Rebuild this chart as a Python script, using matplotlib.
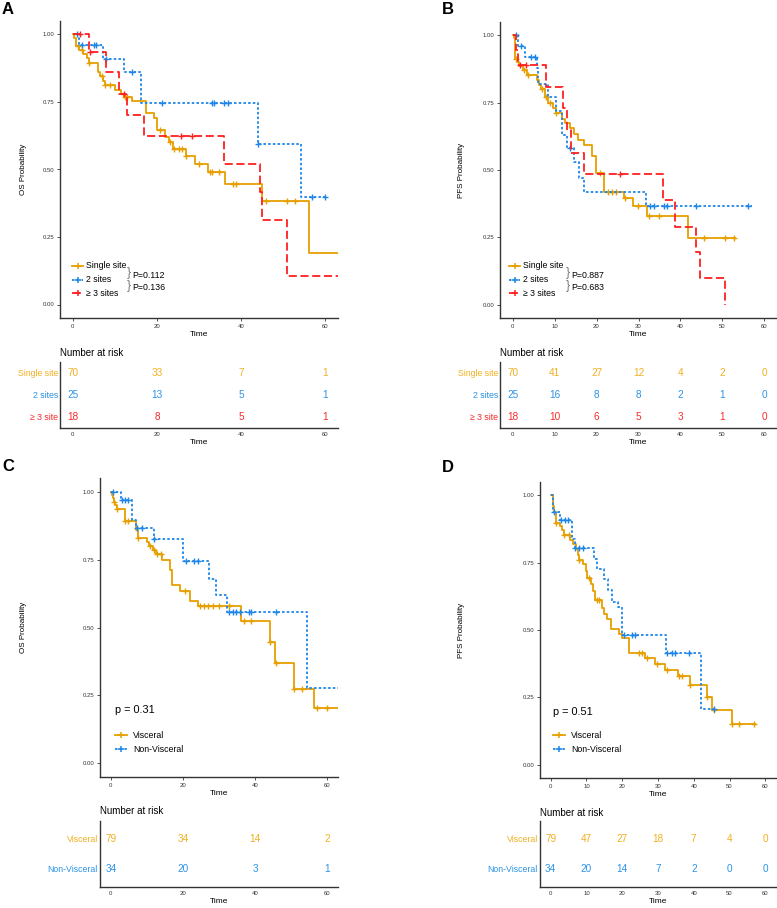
import numpy as np
import matplotlib
matplotlib.use("Agg")
from matplotlib import pyplot as plt
from matplotlib.lines import Line2D

plt.rcParams['font.family'] = ['Liberation Sans', 'DejaVu Sans']

# cores
ORANGE = '#E69F00'
BLUE = '#1E86E8'
RED = '#FF2020'
T_ORANGE = '#F0B020'
T_BLUE = '#2A93E8'
T_RED = '#F52A2A'

# ---- A: OS por numero de sitios ----
a_single_t = [0.4, 0.7, 1.5, 2.5, 3.5, 3.8, 6.0, 6.6, 7.2, 7.6, 10.1, 11.5, 12.2, 14.1, 17.3, 19.2, 20.0,
              22.0, 22.8, 23.8, 26.8, 29.0, 32.1, 36.1, 45.0, 56.0]
a_single_s = [0.986, 0.957, 0.943, 0.929, 0.914, 0.896, 0.862, 0.845, 0.828, 0.812, 0.795, 0.778, 0.770,
              0.752, 0.710, 0.690, 0.648, 0.620, 0.600, 0.577, 0.550, 0.520, 0.490, 0.445, 0.383, 0.192]
a_single_c = [1.2, 2.2, 3.8, 7.0, 7.8, 8.9, 12.5, 13.0, 20.8, 23.0, 24.0, 25.2, 26.0, 27.0, 29.9, 32.5,
              33.1, 34.8, 38.0, 38.7, 45.8, 50.9, 52.9]
a_single_end = 63

a_two_t = [1.6, 7.2, 12.1, 16.2, 43.9, 54.2]
a_two_s = [0.96, 0.91, 0.86, 0.745, 0.595, 0.397]
a_two_c = [1.0, 2.2, 5.0, 5.6, 8.0, 14.1, 21.2, 33.1, 33.6, 35.9, 36.9, 44.0, 56.8, 60.0]
a_two_end = 60

a_three_t = [4.0, 8.0, 10.9, 13.0, 17.0, 36.0, 44.4, 45.0, 51.0]
a_three_s = [0.935, 0.86, 0.78, 0.70, 0.625, 0.52, 0.417, 0.313, 0.104]
a_three_c = [1.8, 4.1, 12.3, 25.8, 28.3]
a_three_end = 63

# ---- B: PFS por numero de sitios ----
b_single_t = [0.3, 0.6, 1.1, 1.6, 2.5, 3.5, 5.7, 6.4, 6.8, 7.7, 8.5, 9.7, 10.3, 11.7, 12.5, 13.7, 14.7,
              15.7, 17.0, 19.0, 19.9, 21.8, 26.6, 28.8, 32.0, 41.8]
b_single_s = [0.99, 0.914, 0.90, 0.886, 0.871, 0.853, 0.835, 0.815, 0.80, 0.77, 0.75, 0.73, 0.71, 0.69,
              0.673, 0.655, 0.635, 0.612, 0.592, 0.552, 0.49, 0.42, 0.395, 0.365, 0.33, 0.246]
b_single_c = [0.7, 2.7, 3.6, 6.9, 7.9, 8.9, 10.3, 20.8, 22.7, 23.6, 24.7, 26.8, 29.8, 32.5, 34.8, 45.7,
              50.7, 52.7]
b_single_end = 53

b_two_t = [1.2, 2.9, 5.7, 6.1, 8.5, 10.3, 11.7, 12.9, 14.7, 15.9, 16.9, 31.8]
b_two_s = [0.96, 0.92, 0.88, 0.82, 0.77, 0.72, 0.63, 0.58, 0.53, 0.47, 0.42, 0.365]
b_two_c = [0.8, 2.0, 4.5, 5.3, 13.7, 32.8, 33.6, 36.0, 36.8, 43.8, 56.2]
b_two_end = 57

b_three_t = [0.8, 1.4, 7.9, 11.9, 12.9, 13.9, 16.9, 35.8, 38.7, 43.8, 44.7, 50.7]
b_three_s = [0.945, 0.89, 0.81, 0.73, 0.65, 0.565, 0.485, 0.39, 0.29, 0.195, 0.10, 0.0]
b_three_c = [1.8, 3.1, 25.5]
b_three_end = 50.7

# ---- C: OS visceral x nao visceral ----
c_visc_t = [0.3, 0.6, 0.9, 1.2, 1.6, 3.9, 7.0, 7.6, 10.0, 10.6, 11.8, 12.6, 14.3, 16.3, 17.1, 19.3,
            21.9, 24.2, 36.2, 44.2, 45.5, 50.8, 56.3]
c_visc_s = [0.987, 0.975, 0.962, 0.949, 0.936, 0.89, 0.86, 0.83, 0.815, 0.80, 0.785, 0.77, 0.75, 0.71,
            0.655, 0.635, 0.596, 0.578, 0.525, 0.447, 0.368, 0.275, 0.205]
c_visc_c = [0.9, 1.6, 3.9, 4.8, 7.6, 10.9, 12.0, 12.9, 13.9, 20.7, 24.7, 25.8, 26.9, 28.3, 30.0, 32.7,
            36.9, 38.8, 44.2, 45.8, 50.9, 53.0, 57.2, 60.0]
c_visc_end = 63

c_non_t = [2.7, 6.0, 7.0, 12.1, 20.0, 27.2, 29.3, 32.1, 54.3]
c_non_s = [0.97, 0.895, 0.865, 0.825, 0.745, 0.68, 0.62, 0.557, 0.278]
c_non_c = [0.7, 3.0, 3.9, 4.8, 7.3, 8.6, 12.1, 20.9, 23.0, 24.2, 32.7, 33.9, 34.8, 35.8, 38.3, 39.0, 45.8]
c_non_end = 63

# ---- D: PFS visceral x nao visceral ----
d_visc_t = [0.5, 0.7, 0.9, 1.5, 2.5, 3.2, 3.6, 5.5, 6.1, 7.1, 7.5, 7.9, 9.1, 9.8, 10.2, 11.2, 11.8, 12.5,
            14.2, 14.9, 15.6, 16.9, 19.1, 19.8, 21.9, 26.4, 29.1, 31.9, 35.6, 38.9, 43.6, 45.0, 50.7]
d_visc_s = [0.987, 0.962, 0.937, 0.899, 0.886, 0.87, 0.853, 0.835, 0.82, 0.80, 0.78, 0.76, 0.745, 0.72,
            0.695, 0.67, 0.645, 0.61, 0.58, 0.56, 0.54, 0.505, 0.485, 0.47, 0.415, 0.395, 0.375, 0.352,
            0.328, 0.295, 0.25, 0.202, 0.15]
d_visc_c = [1.6, 3.8, 5.0, 7.9, 10.6, 12.9, 13.6, 24.7, 25.6, 26.8, 29.6, 32.6, 35.9, 36.8, 38.9, 43.6,
            45.7, 50.7, 52.7, 56.9]
d_visc_end = 57

d_non_t = [0.7, 2.5, 6.0, 6.7, 12.1, 13.0, 14.9, 16.0, 17.2, 18.9, 20.0, 32.1, 42.1]
d_non_s = [0.94, 0.91, 0.84, 0.805, 0.765, 0.725, 0.69, 0.65, 0.605, 0.585, 0.48, 0.415, 0.206]
d_non_c = [0.8, 2.9, 3.9, 4.9, 6.9, 8.0, 9.1, 20.5, 22.8, 23.7, 32.6, 33.8, 34.7, 38.7, 45.7]
d_non_end = 46

# ---- tabelas de numero em risco ----
risk_t_20 = [0, 20, 40, 60]
risk_t_10 = [0, 10, 20, 30, 40, 50, 60]
a_risk_single = [70, 33, 7, 1]
a_risk_two = [25, 13, 5, 1]
a_risk_three = [18, 8, 5, 1]
b_risk_single = [70, 41, 27, 12, 4, 2, 0]
b_risk_two = [25, 16, 8, 8, 2, 1, 0]
b_risk_three = [18, 10, 6, 5, 3, 1, 0]
c_risk_visc = [79, 34, 14, 2]
c_risk_non = [34, 20, 3, 1]
d_risk_visc = [79, 47, 27, 18, 7, 4, 0]
d_risk_non = [34, 20, 14, 7, 2, 0, 0]

W, H = 777, 908
fig = plt.figure(figsize=(W / 100, H / 100), dpi=100)


def px_axes(l, t, r, b):
    return fig.add_axes([l / W, 1 - b / H, (r - l) / W, (b - t) / H])


def ftext(x, y, s, **kw):
    fig.text(x / W, 1 - y / H, s, **kw)


def fline(x1, x2, y, color, ls, dashes=None):
    ln = Line2D([x1 / W, x2 / W], [1 - y / H, 1 - y / H], transform=fig.transFigure,
                color=color, lw=1.3, linestyle=ls)
    if dashes:
        ln.set_dashes(dashes)
    fig.add_artist(ln)
    fig.add_artist(Line2D([(x1 + x2) / 2 / W], [1 - y / H], transform=fig.transFigure,
                          color=color, marker='+', ms=5, mew=1.1, linestyle='none'))


def km(ax, t, s, cens, end, color, ls, dashes=None):
    xs = [0] + list(t) + [end]
    ys = [1.0] + list(s) + [s[-1]]
    ln, = ax.step(xs, ys, where='post', color=color, lw=1.3, linestyle=ls)
    if dashes:
        ln.set_dashes(dashes)
    surv = np.array([1.0] + list(s))
    idx = np.searchsorted(np.array(t), np.array(cens), side='right')
    ax.plot(cens, surv[idx], '+', color=color, ms=5, mew=1.0)


def style_km(ax, xticks, ylabel, ylab_x):
    ax.set_xlim(-3, 63)
    ax.set_ylim(-0.05, 1.05)
    ax.set_xticks(xticks)
    ax.set_yticks([0, 0.25, 0.5, 0.75, 1.0])
    ax.set_yticklabels(['0.00', '0.25', '0.50', '0.75', '1.00'])
    for sp in ['top', 'right']:
        ax.spines[sp].set_visible(False)
    for sp in ['left', 'bottom']:
        ax.spines[sp].set_linewidth(1.0)
        ax.spines[sp].set_color('#333333')
    ax.tick_params(labelsize=4.3, length=2, width=0.6, colors='#333333', pad=2)
    ax.set_xlabel('Time', fontsize=6, labelpad=1.5)
    ax.set_ylabel(ylabel, fontsize=5.8)
    ax.yaxis.set_label_coords(ylab_x, 0.5)


def risk(ax, times, rows, labels, colors, rowcols, xticks, ylim):
    n = len(rows)
    for i, (vals, c) in enumerate(zip(rows, colors)):
        y = n - i
        for tt, v in zip(times, vals):
            ax.text(tt, y, str(v), color=c, fontsize=7.2, ha='center', va='center')
    ax.set_xlim(-3, 63)
    ax.set_ylim(*ylim)
    ax.set_yticks(list(range(n, 0, -1)))
    ax.set_yticklabels(labels, fontsize=6.3)
    for lab, c in zip(ax.get_yticklabels(), rowcols):
        lab.set_color(c)
    ax.set_xticks(xticks)
    for sp in ['top', 'right']:
        ax.spines[sp].set_visible(False)
    for sp in ['left', 'bottom']:
        ax.spines[sp].set_linewidth(1.0)
        ax.spines[sp].set_color('#333333')
    ax.tick_params(axis='y', length=0, pad=1.5)
    ax.tick_params(axis='x', labelsize=4.3, length=0, colors='#333333', pad=3)
    ax.set_xlabel('Time', fontsize=6, labelpad=1)


# painel A
axA = px_axes(60, 21, 338, 318)
km(axA, a_single_t, a_single_s, a_single_c, a_single_end, ORANGE, '-')
km(axA, a_two_t, a_two_s, a_two_c, a_two_end, BLUE, '--', (1.4, 1.2))
km(axA, a_three_t, a_three_s, a_three_c, a_three_end, RED, '--', (4.5, 2.0))
style_km(axA, [0, 20, 40, 60], 'OS Probability', -0.119)

# painel B
axB = px_axes(500, 22, 777, 318)
km(axB, b_single_t, b_single_s, b_single_c, b_single_end, ORANGE, '-')
km(axB, b_two_t, b_two_s, b_two_c, b_two_end, BLUE, '--', (1.4, 1.2))
km(axB, b_three_t, b_three_s, b_three_c, b_three_end, RED, '--', (4.5, 2.0))
style_km(axB, [0, 10, 20, 30, 40, 50, 60], 'PFS Probability', -0.126)

# painel C
axC = px_axes(100, 478, 338, 777)
km(axC, c_visc_t, c_visc_s, c_visc_c, c_visc_end, ORANGE, '-')
km(axC, c_non_t, c_non_s, c_non_c, c_non_end, BLUE, '--', (1.4, 1.2))
style_km(axC, [0, 20, 40, 60], 'OS Probability', -0.307)

# painel D
axD = px_axes(540, 482, 776, 778)
km(axD, d_visc_t, d_visc_s, d_visc_c, d_visc_end, ORANGE, '-')
km(axD, d_non_t, d_non_s, d_non_c, d_non_end, BLUE, '--', (1.4, 1.2))
style_km(axD, [0, 10, 20, 30, 40, 50, 60], 'PFS Probability', -0.318)

# legendas A e B
for x0, ptxt in [(72, ['P=0.112', 'P=0.136']), (509, ['P=0.887', 'P=0.683'])]:
    fline(x0, x0 + 11, 266, ORANGE, '-')
    fline(x0, x0 + 11, 279.5, BLUE, '--', (1.4, 1.2))
    fline(x0, x0 + 11, 293, RED, '--', (4.5, 2.0))
    ftext(x0 + 14, 266, 'Single site', fontsize=6.3, va='center')
    ftext(x0 + 14, 279.5, '2 sites', fontsize=6.3, va='center')
    ftext(x0 + 14, 293, '\u2265 3 sites', fontsize=6.3, va='center')
    bx = x0 + 55 if x0 == 72 else x0 + 57
    ftext(bx, 273, '}', fontsize=9, va='center', color='#777777')
    ftext(bx, 286.5, '}', fontsize=9, va='center', color='#777777')
    ftext(bx + 5, 275, ptxt[0], fontsize=6.3, va='center')
    ftext(bx + 5, 288, ptxt[1], fontsize=6.3, va='center')

# legendas C e D
for x0, ptxt, ty in [(115, 'p = 0.31', 710), (553, 'p = 0.51', 712)]:
    ftext(x0, ty, ptxt, fontsize=7.8, va='center')
    fline(x0, x0 + 12, 735, ORANGE, '-')
    fline(x0, x0 + 12, 749, BLUE, '--', (1.4, 1.2))
    ftext(x0 + 18, 735, 'Visceral', fontsize=6.3, va='center')
    ftext(x0 + 18, 749, 'Non-Visceral', fontsize=6.3, va='center')

# tabelas
rA = px_axes(60, 362, 338, 428)
risk(rA, risk_t_20, [a_risk_single, a_risk_two, a_risk_three], ['Single site', '2 sites', '\u2265 3 site'],
     [T_ORANGE, T_BLUE, T_RED], [T_ORANGE, T_BLUE, T_RED], risk_t_20, (0.5, 3.5))
rB = px_axes(500, 362, 777, 428)
risk(rB, risk_t_10, [b_risk_single, b_risk_two, b_risk_three], ['Single site', '2 sites', '\u2265 3 site'],
     [T_ORANGE, T_BLUE, T_RED], [T_ORANGE, T_BLUE, T_RED], risk_t_10, (0.5, 3.5))
rC = px_axes(100, 821, 338, 887)
risk(rC, risk_t_20, [c_risk_visc, c_risk_non], ['Visceral', 'Non-Visceral'],
     [T_ORANGE, T_BLUE], [T_ORANGE, T_BLUE], risk_t_20, (0.4, 2.6))
rD = px_axes(540, 821, 776, 887)
risk(rD, risk_t_10, [d_risk_visc, d_risk_non], ['Visceral', 'Non-Visceral'],
     [T_ORANGE, T_BLUE], [T_ORANGE, T_BLUE], risk_t_10, (0.4, 2.6))

for x, y in [(60, 353), (500, 353), (100, 811), (540, 813)]:
    ftext(x, y, 'Number at risk', fontsize=7, va='center')

# letras dos paineis
for x, y, s in [(2, 10, 'A'), (442, 10, 'B'), (2, 467, 'C'), (442, 468, 'D')]:
    ftext(x, y, s, fontsize=12, fontweight='bold', va='center')

fig.savefig('out.png', dpi=100)
